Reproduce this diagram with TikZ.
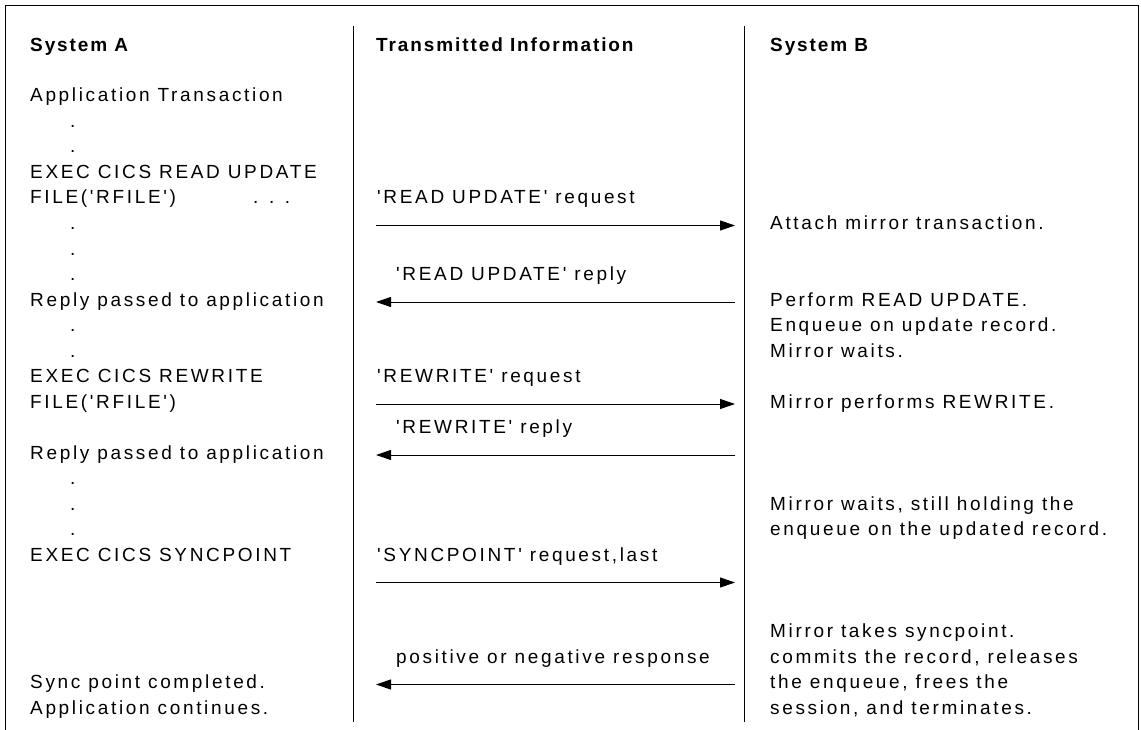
\documentclass[tikz,border=0pt]{standalone}
\usepackage{fontspec}
\setmainfont{Liberation Sans}[Ligatures=TeXOff, LetterSpace=14, BoldFeatures={LetterSpace=10}]
\usetikzlibrary{arrows.meta}

\begin{document}
\begin{tikzpicture}[x=1pt, y=-1pt,
  txt/.style={anchor=base west, inner sep=0pt, font=\fontsize{19}{22}\selectfont},
  hdr/.style={txt, font=\fontsize{19}{22}\selectfont\bfseries},
  msg/.style={-{Triangle[length=15pt, width=10pt]}, line width=1pt}]
\useasboundingbox (0,0) rectangle (1141,730);
\draw[line width=1pt] (5,730) -- (5,6) -- (1138,6) -- (1138,730);
\draw[line width=1pt] (353,26) -- (353,722) (744,26) -- (744,722);
\node[hdr] (sysa) at (30,52) {System A};
\node[hdr] (trans) at (376,52) {Transmitted Information};
\node[hdr] (sysb) at (770,52) {System B};
\node[txt] (apptx) at (30, 102 + 0*25.5) {Application Transaction};
\foreach \n in {1,2,5,6,7,9,10,15,16,17}
  \node[txt] (dot\n) at (70, 102 + \n*25.5) {.};
\node[txt] (readupd) at (30, 102 + 3*25.5) {EXEC CICS READ UPDATE};
\node[txt] (rfile1) at (30, 102 + 4*25.5) {FILE('RFILE')};
\node[txt] (etc) at (253, 102 + 4*25.5) {. . .};
\node[txt] (reply1) at (30, 102 + 8*25.5) {Reply passed to application};
\node[txt] (rewrite) at (30, 102 + 11*25.5) {EXEC CICS REWRITE};
\node[txt] (rfile2) at (30, 102 + 12*25.5) {FILE('RFILE')};
\node[txt] (reply2) at (30, 102 + 14*25.5) {Reply passed to application};
\node[txt] (syncpt) at (30, 102 + 18*25.5) {EXEC CICS SYNCPOINT};
\node[txt] (done) at (30, 102 + 23*25.5) {Sync point completed.};
\node[txt] (cont) at (30, 102 + 24*25.5) {Application continues.};
\node[txt] (rurq) at (377, 102 + 4*25.5) {'READ UPDATE' request};
\node[txt] (rurp) at (396, 102 + 7*25.5) {'READ UPDATE' reply};
\node[txt] (rwrq) at (377, 102 + 11*25.5) {'REWRITE' request};
\node[txt] (rwrp) at (396, 102 + 13*25.5) {'REWRITE' reply};
\node[txt] (sprq) at (377, 102 + 18*25.5) {'SYNCPOINT' request,last};
\node[txt] (sprp) at (396, 102 + 22*25.5) {positive or negative response};
\node[txt] (attach) at (770, 102 + 5*25.5) {Attach mirror transaction.};
\node[txt] (perf) at (770, 102 + 8*25.5) {Perform READ UPDATE.};
\node[txt] (enq) at (770, 102 + 9*25.5) {Enqueue on update record.};
\node[txt] (wait1) at (770, 102 + 10*25.5) {Mirror waits.};
\node[txt] (mrw) at (770, 102 + 12*25.5) {Mirror performs REWRITE.};
\node[txt] (wait2) at (770, 102 + 16*25.5) {Mirror waits, still holding the};
\node[txt] (wait2b) at (770, 102 + 17*25.5) {enqueue on the updated record.};
\node[txt] (takes) at (770, 102 + 21*25.5) {Mirror takes syncpoint.};
\node[txt] (commit) at (770, 102 + 22*25.5) {commits the record, releases};
\node[txt] (frees) at (770, 102 + 23*25.5) {the enqueue, frees the};
\node[txt] (term) at (770, 102 + 24*25.5) {session, and terminates.};
\coordinate (a1) at (376, 102 + 5*25.5 - 4);
\coordinate (b1) at (735, 102 + 5*25.5 - 4);
\coordinate (a2) at (376, 102 + 8*25.5 - 4);
\coordinate (b2) at (735, 102 + 8*25.5 - 4);
\coordinate (a3) at (376, 102 + 12*25.5 - 4);
\coordinate (b3) at (735, 102 + 12*25.5 - 4);
\coordinate (a4) at (376, 102 + 14*25.5 - 4);
\coordinate (b4) at (735, 102 + 14*25.5 - 4);
\coordinate (a5) at (376, 102 + 19*25.5 - 4);
\coordinate (b5) at (735, 102 + 19*25.5 - 4);
\coordinate (a6) at (376, 102 + 23*25.5 - 4);
\coordinate (b6) at (735, 102 + 23*25.5 - 4);
\draw[msg] (a1) -- (b1);
\draw[msg] (b2) -- (a2);
\draw[msg] (a3) -- (b3);
\draw[msg] (b4) -- (a4);
\draw[msg] (a5) -- (b5);
\draw[msg] (b6) -- (a6);
\end{tikzpicture}
\end{document}
